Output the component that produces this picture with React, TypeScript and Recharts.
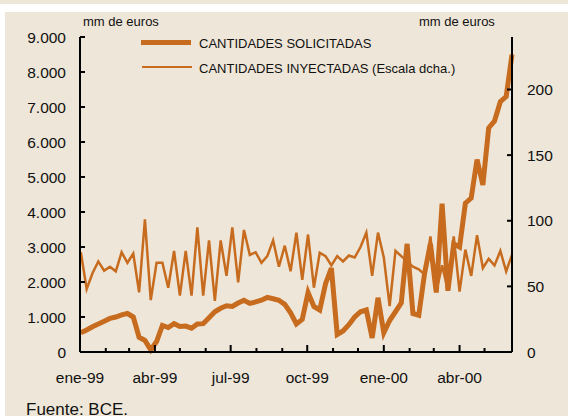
import React from 'react';
import { LineChart, Line, XAxis, YAxis } from 'recharts';

// Subastas semanales: ene-99 a may-00
const solicitadas = [
  550, 630, 720, 800, 880, 960, 1000, 1060, 1100, 1000,
  420, 330, 60, 300, 760, 700, 810, 730, 740, 680,
  800, 810, 980, 1150, 1250, 1320, 1300, 1400, 1480, 1390,
  1430, 1480, 1560, 1520, 1480, 1360, 1120, 800, 930, 1700,
  1300, 1200, 1950, 2400, 500, 600, 780, 1000, 1150, 1200,
  400, 1550, 550, 900, 1150, 1400, 3090, 1100, 1050, 2250,
  3090, 1700, 4240, 1750, 3090, 3000, 4250, 4400, 5500, 4770,
  6400, 6600, 7150, 7300, 8500,
];

const inyectadas = [
  76, 48, 60, 69, 62, 65, 61.5, 76, 68, 75,
  45.5, 101, 39.5, 68, 68, 49, 77, 43, 77, 43,
  95, 43, 85, 39, 85, 58, 95, 53, 93, 74,
  76, 68, 73, 85, 65, 81, 61.5, 91, 55, 89.5,
  49, 75.6, 73, 66, 73, 69, 73.5, 72, 80, 91,
  58, 91, 72, 35, 77, 73, 69, 65, 63, 59,
  88, 46, 66, 47, 88, 46, 78, 58, 89, 64,
  71, 66, 77, 61.5, 74,
];

// days since 1 Jan 1999 for each weekly operation
const weekDays = solicitadas.map((_, i) => 1 + 7 * i);

const monthTickDays = [0, 31, 59, 90, 120, 151, 181, 212, 243, 273, 304, 334, 365, 396, 425, 456, 486];
const quarterTickDays = [0, 90, 181, 273, 365, 456];
const quarterTickLabels = ['ene-99', 'abr-99', 'jul-99', 'oct-99', 'ene-00', 'abr-00'];

const leftTicks = [0, 1000, 2000, 3000, 4000, 5000, 6000, 7000, 8000, 9000];
const rightTicks = [0, 50, 100, 150, 200];

const chartData = weekDays.map((d, i) => ({
  day: d,
  solicitadas: solicitadas[i],
  inyectadas: inyectadas[i],
}));

const ORANGE = '#C76B1E';
const BEIGE = '#EEE6D8';
const FONT = '"Liberation Sans", Arial, sans-serif';

const fmt = (v: number) => v.toLocaleString('de-DE');

const XTick = (props: any) => {
  const { x, y, payload } = props;
  const q = quarterTickDays.indexOf(payload.value);
  const len = q >= 0 ? 7 : 4;
  return (
    <g>
      {payload.value > 0 && <line x1={x} x2={x} y1={y} y2={y - len} stroke="#000" strokeWidth={2} />}
      {q >= 0 && (
        <text x={x} y={y + 31} textAnchor="middle" fontSize={15.5} fill="#111" fontFamily={FONT}>
          {quarterTickLabels[q]}
        </text>
      )}
    </g>
  );
};

const LeftTick = (props: any) => {
  const { x, y, payload } = props;
  return (
    <g>
      {payload.value > 0 && <line x1={x} x2={x + 5} y1={y} y2={y} stroke="#000" strokeWidth={2} />}
      <text x={x - 14} y={y + 5.5} textAnchor="end" fontSize={15.5} fill="#111" fontFamily={FONT}>
        {fmt(payload.value)}
      </text>
    </g>
  );
};

const RightTick = (props: any) => {
  const { x, y, payload } = props;
  return (
    <g>
      {payload.value > 0 && <line x1={x - 5} x2={x} y1={y} y2={y} stroke="#000" strokeWidth={2} />}
      <text x={x + 15} y={y + 5.5} textAnchor="start" fontSize={15.5} fill="#111" fontFamily={FONT}>
        {payload.value}
      </text>
    </g>
  );
};

const txt: React.CSSProperties = {
  position: 'absolute',
  fontFamily: FONT,
  fontSize: 13,
  lineHeight: '15px',
  color: '#111',
  whiteSpace: 'nowrap',
};

export default function App() {
  return (
    <div style={{ position: 'fixed', left: 0, top: 0, width: 568, height: 416, background: '#fff', overflow: 'hidden' }}>
      <div style={{ position: 'absolute', left: 0, top: 0, width: 568, height: 4, background: BEIGE }} />
      <div style={{ position: 'absolute', left: 5, top: 12, width: 563, height: 404, background: BEIGE }} />
      <div style={{ position: 'absolute', left: 0, top: 0 }}>
        <LineChart width={568} height={416} data={chartData} margin={{ top: 37, right: 0, bottom: 0, left: 0 }}>
          <XAxis
            dataKey="day"
            type="number"
            domain={[0, 519]}
            ticks={monthTickDays}
            interval={0}
            tick={<XTick />}
            tickLine={false}
            tickSize={0}
            tickMargin={0}
            height={64}
            axisLine={{ stroke: '#000', strokeWidth: 2 }}
          />
          <YAxis
            yAxisId="left"
            domain={[0, 9000]}
            ticks={leftTicks}
            interval={0}
            tick={<LeftTick />}
            tickLine={false}
            tickSize={0}
            tickMargin={0}
            width={80}
            axisLine={{ stroke: '#000', strokeWidth: 2 }}
          />
          <YAxis
            yAxisId="right"
            orientation="right"
            domain={[0, 240]}
            ticks={rightTicks}
            interval={0}
            tick={<RightTick />}
            tickLine={false}
            tickSize={0}
            tickMargin={0}
            width={56}
            axisLine={{ stroke: '#000', strokeWidth: 2 }}
          />
          <Line
            yAxisId="left"
            type="linear"
            dataKey="solicitadas"
            stroke={ORANGE}
            strokeWidth={5}
            dot={false}
            isAnimationActive={false}
          />
          <Line
            yAxisId="right"
            type="linear"
            dataKey="inyectadas"
            stroke={ORANGE}
            strokeWidth={2.5}
            dot={false}
            isAnimationActive={false}
          />
        </LineChart>
      </div>

      <div style={{ ...txt, left: 83, top: 14 }}>mm de euros</div>
      <div style={{ ...txt, left: 419, top: 14 }}>mm de euros</div>

      <div style={{ position: 'absolute', left: 141, top: 40, width: 50, height: 5, background: ORANGE }} />
      <div style={{ ...txt, left: 199, top: 36 }}>CANTIDADES SOLICITADAS</div>
      <div style={{ position: 'absolute', left: 142, top: 65.5, width: 50, height: 2.5, background: ORANGE }} />
      <div style={{ ...txt, left: 199, top: 61 }}>CANTIDADES INYECTADAS (Escala dcha.)</div>

      <div style={{ ...txt, left: 26, top: 401, fontSize: 17, lineHeight: '17px' }}>Fuente: BCE.</div>
    </div>
  );
}
